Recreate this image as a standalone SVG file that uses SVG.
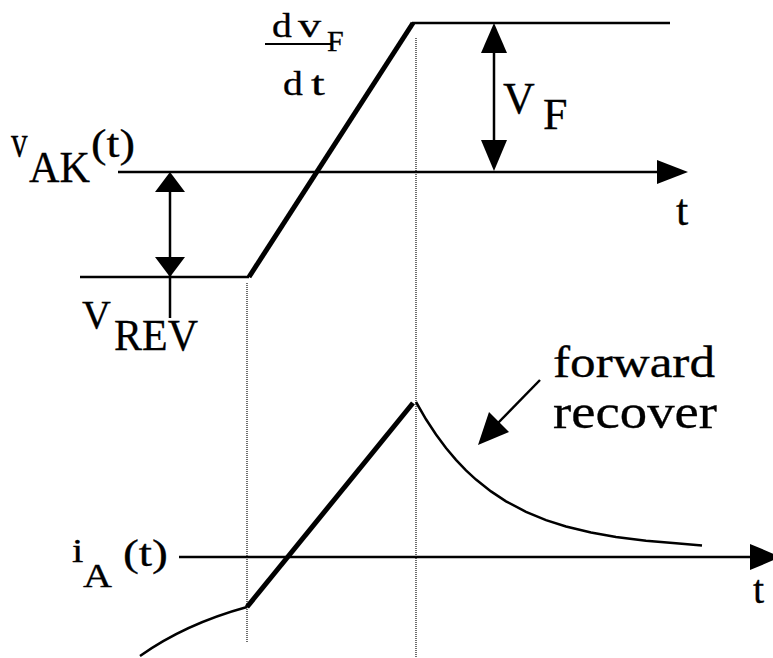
<svg xmlns="http://www.w3.org/2000/svg" width="773" height="658" viewBox="0 0 773 658">
<defs>
<style>
.thin{fill:none;stroke:#000;stroke-width:2.5}
.thick{fill:none;stroke:#000;stroke-width:5;stroke-linejoin:miter}
.dot{fill:none;stroke:#6e6e6e;stroke-width:2;stroke-dasharray:1 1}
.head{fill:#000;stroke:none}
text{font-family:"Liberation Serif","Times New Roman",serif;fill:#000;stroke:#000;stroke-width:0.3}
</style>
</defs>
<rect width="773" height="658" fill="#fff"/>
<g id="guides">
<line class="dot" x1="247" y1="283" x2="247" y2="642"/>
<line class="dot" x1="416" y1="38" x2="416" y2="658"/>
</g>
<g id="connectors">
<line class="thin" x1="118" y1="172" x2="662" y2="172"/>
<polygon class="head" points="688,172 657,160 657,184"/>
<line class="thin" x1="80" y1="277" x2="249" y2="277"/>
<polyline class="thick" points="249,277 413,23"/>
<line class="thin" x1="412" y1="23" x2="670" y2="23"/>
<line class="thin" x1="170" y1="185" x2="170" y2="318"/>
<polygon class="head" points="170,172 155,192 185,192"/>
<polygon class="head" points="170,277 155,257 185,257"/>
<line class="thin" x1="494" y1="40" x2="494" y2="155"/>
<polygon class="head" points="494,23 481,53 507,53"/>
<polygon class="head" points="494,171 481,140 507,140"/>
<line x1="265" y1="44" x2="333" y2="44" stroke="#000" stroke-width="2"/>
<line class="thin" x1="179" y1="557" x2="755" y2="557"/>
<polygon class="head" points="781,557 750,544 750,570"/>
<path class="thin" d="M140,656 Q185,624 247,607"/>
<polyline class="thick" points="247,607 413,403"/>
<path class="thin" d="M416,402 L426,419.3 L436,434.5 L446,448 L456,459.8 L466,470.3 L476,479.6 L491,491.4 L506,501.3 L526,511.8 L546,520.1 L566,526.5 L591,532.5 L616,536.9 L646,540.7 L676,543.3 L702,545.5"/>
<line class="thin" x1="540" y1="380" x2="497" y2="424"/>
<polygon class="head" points="478,445 489,412 509,432"/>
</g>
<g id="label-vak">
<text transform="translate(11,157) scale(0.72,1)" font-size="46">v</text>
<text x="29" y="182" font-size="44" textLength="61" lengthAdjust="spacingAndGlyphs">AK</text>
<text x="91" y="157" font-size="40" textLength="44" lengthAdjust="spacingAndGlyphs">(t)</text>
</g>
<g id="label-dvdt">
<text transform="translate(272,37) scale(1.2,1)" font-size="33">d</text>
<text transform="translate(298,37) scale(1.4,1)" font-size="33">v</text>
<text x="327" y="51" font-size="30">F</text>
<text transform="translate(283,95) scale(1.2,1)" font-size="33">d</text>
<text transform="translate(311,95) scale(1.5,1)" font-size="33">t</text>
</g>
<g id="label-vf">
<text x="503" y="113" font-size="44">V</text>
<text x="543" y="129" font-size="44">F</text>
</g>
<g id="label-t-upper">
<text x="676" y="225" font-size="44">t</text>
</g>
<g id="label-vrev">
<text x="82" y="328" font-size="40">V</text>
<text x="114" y="350" font-size="44" textLength="84" lengthAdjust="spacingAndGlyphs">REV</text>
</g>
<g id="label-forward-recover">
<text x="553" y="377" font-size="44" textLength="162" lengthAdjust="spacingAndGlyphs">forward</text>
<text x="553" y="428" font-size="49" textLength="164" lengthAdjust="spacingAndGlyphs">recover</text>
</g>
<g id="label-ia">
<text transform="translate(72,562) scale(1.2,1)" font-size="34">i</text>
<text x="83" y="587" font-size="34" textLength="29" lengthAdjust="spacingAndGlyphs">A</text>
<text x="123" y="566" font-size="38" textLength="45" lengthAdjust="spacingAndGlyphs">(t)</text>
</g>
<g id="label-t-lower">
<text x="753" y="603" font-size="40">t</text>
</g>
</svg>
